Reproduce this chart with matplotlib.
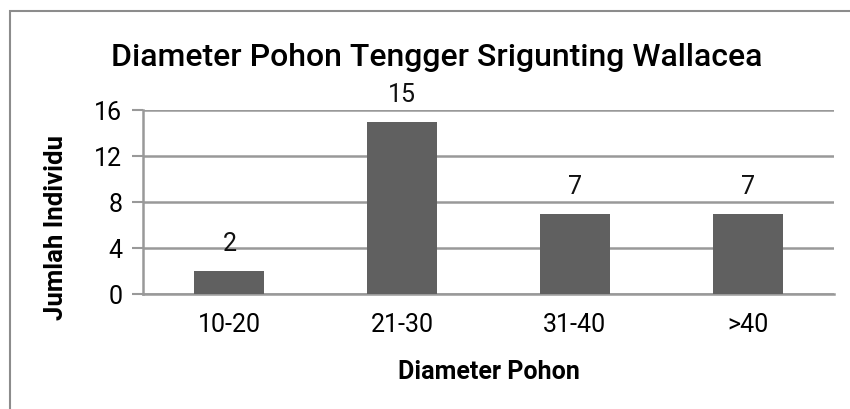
import matplotlib.pyplot as plt
from matplotlib.patches import Rectangle

# data
categories = ["10-20", "21-30", "31-40", ">40"]
counts = [2, 15, 7, 7]
y_ticks = [0, 4, 8, 12, 16]

plt.rcParams["font.family"] = ["Roboto", "DejaVu Sans"]

GRID = "#999999"
BAR = "#606060"

fig = plt.figure(figsize=(8.5, 4.09), dpi=100)
ax = fig.add_axes([143 / 850, 1 - 294 / 409, (834 - 143) / 850, (294 - 110) / 409])

x = range(len(categories))
bars = ax.bar(x, counts, width=0.405, color=BAR, zorder=3)
for b, v in zip(bars, counts):
    ax.text(b.get_x() + b.get_width() / 2, v + 1.3, str(v),
            ha="center", va="bottom", fontsize=18, color="#111111", zorder=4)

ax.set_xlim(-0.5, len(categories) - 0.5)
ax.set_ylim(0, 16)
ax.set_yticks(y_ticks)
ax.set_xticks(list(x))
ax.set_xticklabels(categories)
ax.tick_params(axis="y", length=8, width=1.5, color=GRID, labelsize=18, pad=7)
ax.tick_params(axis="x", length=0, labelsize=18, pad=14)

ax.yaxis.grid(True, color=GRID, linewidth=1.8, zorder=0)
ax.set_axisbelow(True)
for side in ["top", "right"]:
    ax.spines[side].set_visible(False)
ax.spines["left"].set_color(GRID)
ax.spines["left"].set_linewidth(1.8)
ax.spines["bottom"].set_color(GRID)
ax.spines["bottom"].set_linewidth(1.8)

ax.set_xlabel("Diameter Pohon", fontsize=18, fontweight="bold", labelpad=16)
ax.set_ylabel("Jumlah Individu", fontsize=18.5, fontweight="bold")
ax.yaxis.set_label_coords(-0.108, 0.36)

fig.text(437 / 850, 1 - 57 / 409, "Diameter Pohon Tengger Srigunting Wallacea",
         ha="center", va="center", fontsize=23, fontweight="medium", color="#000000")

# outer chart border
fig.patches.append(Rectangle((10 / 850, -0.05), 1.2, 1 - 11 / 409 + 0.05,
                             transform=fig.transFigure, fill=False,
                             edgecolor="#8c8c8c", linewidth=1.5))

fig.savefig("out.png", dpi=100)
